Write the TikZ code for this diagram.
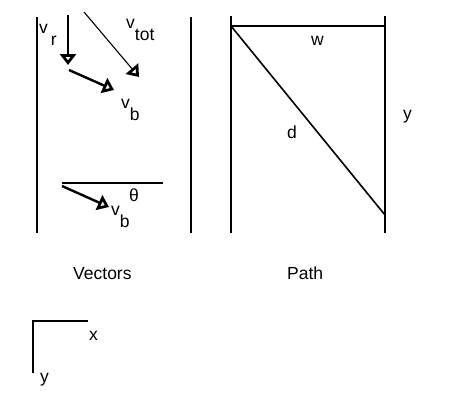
\documentclass[tikz,border=0pt]{standalone}
\usepackage{fontspec}
\setmainfont{Liberation Sans}
\usetikzlibrary{arrows.meta}
\begin{document}
\begin{tikzpicture}[x=1pt,y=-1pt,
  wall/.style={line width=2pt},
  vec/.style={line width=2.4pt,-{Triangle[open,length=11pt,width=16pt,line width=3pt]}},
  thinvec/.style={line width=1.1pt,-{Triangle[open,length=11pt,width=16pt,line width=3pt]}},
  lbl/.style={font=\fontsize{17.5}{20}\selectfont,inner sep=0pt,anchor=base west}]
\useasboundingbox (0,0) rectangle (450,400);
% vectors box walls
\coordinate (L1) at (37,17); \coordinate (L2) at (37,233);
\coordinate (R1) at (191,17); \coordinate (R2) at (191,233);
\draw[wall] (L1) -- (L2);
\draw[wall] (R1) -- (R2);
% v_r
\coordinate (vr1) at (68,15); \coordinate (vr2) at (68,65);
\draw[vec] (vr1) -- (vr2);
\node[lbl] (vrl) at (39,33) {v\raisebox{-12pt}{\,r}};
% v_tot
\coordinate (vt1) at (84,12); \coordinate (vt2) at (139,77);
\draw[thinvec] (vt1) -- (vt2);
\node[lbl] (vtl) at (126,28) {v\raisebox{-12pt}{tot}};
% v_b upper
\coordinate (vb1) at (69,70); \coordinate (vb2) at (114,90);
\draw[vec] (vb1) -- (vb2);
\node[lbl] (vbl) at (121,108) {v\raisebox{-12pt}{b}};
% lower
\coordinate (h1) at (62,183); \coordinate (h2) at (163,183);
\draw[wall] (h1) -- (h2);
\coordinate (vc1) at (62,186); \coordinate (vc2) at (109,207);
\draw[vec] (vc1) -- (vc2);
\node[lbl] (th) at (129,201) {θ};
\node[lbl] (vbl2) at (111,215) {v\raisebox{-12pt}{b}};
% path box
\coordinate (P1) at (231,16); \coordinate (P2) at (231,233);
\coordinate (Q1) at (385,16); \coordinate (Q2) at (385,233);
\coordinate (T1) at (231,26); \coordinate (T2) at (385,26);
\coordinate (D2) at (385,215);
\draw[wall] (P1) -- (P2);
\draw[wall] (Q1) -- (Q2);
\draw[wall] (T1) -- (T2);
\draw[line width=1.6pt] (T1) -- (D2);
\node[lbl] (w) at (311,45) {w};
\node[lbl] (d) at (287,138) {d};
\node[lbl] (y) at (403,119) {y};
% captions
\node[lbl] (vec) at (73,279) {Vectors};
\node[lbl] (path) at (287,279) {Path};
% axes
\coordinate (O) at (33,321); \coordinate (X) at (88,321); \coordinate (Y) at (33,373);
\draw[wall] (X) -- (O) -- (Y);
\node[lbl] (xl) at (89,340) {x};
\node[lbl] (yl) at (40,382) {y};
\end{tikzpicture}
\end{document}
